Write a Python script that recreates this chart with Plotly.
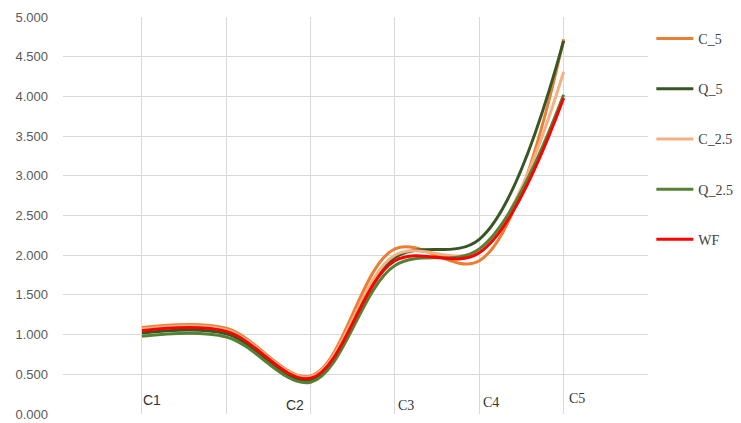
import plotly.graph_objects as go

categories = ["C1", "C2", "C3", "C4", "C5"]
x_vals = [1, 2, 3, 4, 5, 6]
series_names = ["C_5", "Q_5", "C_2.5", "Q_2.5", "WF"]
c_5 = [1.09, 1.08, 0.48, 2.08, 1.93, 4.72]
q_5 = [1.02, 1.01, 0.43, 1.97, 2.20, 4.70]
c_2_5 = [1.07, 1.06, 0.47, 2.00, 2.06, 4.31]
q_2_5 = [0.98, 0.97, 0.40, 1.87, 2.08, 4.02]
wf = [1.05, 1.04, 0.45, 1.93, 2.03, 3.98]
y_ticks = [0, 0.5, 1, 1.5, 2, 2.5, 3, 3.5, 4, 4.5, 5]

colors = ["#ED7D31", "#375623", "#F4B183", "#548235", "#FF0000"]
values = [c_5, q_5, c_2_5, q_2_5, wf]

fig = go.Figure()
for name, vals, col in zip(series_names, values, colors):
    fig.add_trace(go.Scatter(
        x=x_vals, y=vals, name=name, mode="lines",
        line=dict(color=col, width=3, shape="spline", smoothing=1),
        legendgroup=name,
    ))

label_pos = [(1.12, 0.18, "Liberation Sans"), (2.82, 0.11, "Liberation Sans"),
             (4.13, 0.11, "Liberation Serif"), (5.14, 0.14, "Liberation Serif"),
             (6.16, 0.19, "Liberation Serif")]
for cat, (lx, ly, fnt) in zip(categories, label_pos):
    fig.add_annotation(x=lx, y=ly, text=cat, showarrow=False,
                       font=dict(family=fnt, size=14, color="#333333"))

fig.update_layout(
    width=733, height=415,
    margin=dict(l=55, r=93, t=9, b=9, autoexpand=False),
    paper_bgcolor="white", plot_bgcolor="white",
    showlegend=True,
    legend=dict(x=1.0057, xanchor="left", y=0.985, yanchor="top",
                tracegroupgap=29, itemwidth=37, maxheight=400,
                font=dict(family="Liberation Serif", size=14, color="#404040"),
                bgcolor="rgba(0,0,0,0)"),
    xaxis=dict(range=[0.064, 7], tick0=1, dtick=1, showticklabels=False,
               showgrid=True, gridcolor="#d9d9d9", gridwidth=1, zeroline=False,
               showline=False, ticks="", automargin=False),
    yaxis=dict(range=[0, 5], tickvals=y_ticks, tickformat=".3f",
               showgrid=True, gridcolor="#d9d9d9", gridwidth=1, zeroline=False,
               showline=False, ticks="", ticklabelstandoff=14, automargin=False,
               tickfont=dict(family="Liberation Sans", size=13, color="#595959")),
)

fig.write_html("out.html")
